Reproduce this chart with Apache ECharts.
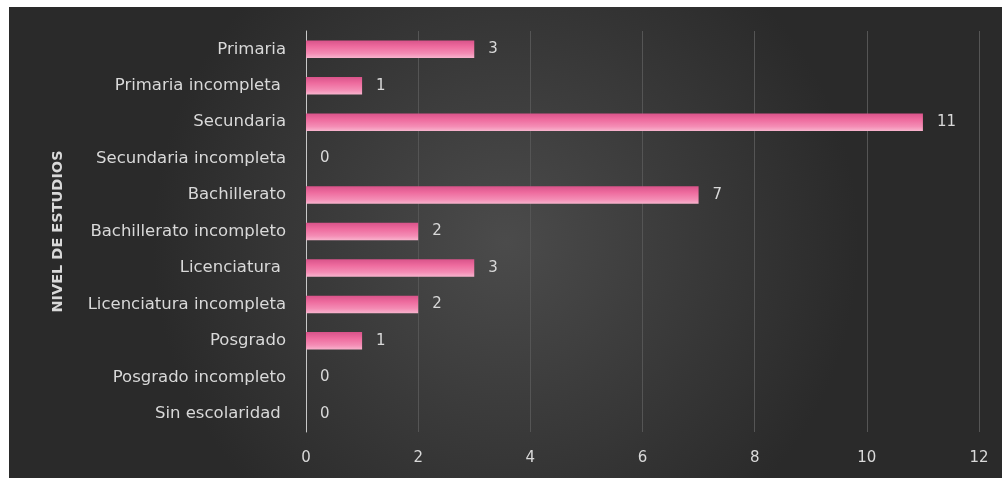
<!DOCTYPE html>
<html>
<head>
<meta charset="utf-8">
<script src="https://cdn.jsdelivr.net/npm/echarts@6/dist/echarts.min.js"></script>
<style>
  html, body { margin: 0; padding: 0; background: #ffffff; }
  #chart { position: absolute; left: 9px; top: 7px; width: 993px; height: 471px; }
</style>
</head>
<body>
<div id="chart"></div>
<script>
// Education level categories, listed top to bottom
const categories = [
  'Primaria',
  'Primaria incompleta ',
  'Secundaria',
  'Secundaria incompleta',
  'Bachillerato',
  'Bachillerato incompleto',
  'Licenciatura ',
  'Licenciatura incompleta',
  'Posgrado',
  'Posgrado incompleto',
  'Sin escolaridad '
];
// Number of people per level
const counts = [3, 1, 11, 0, 7, 2, 3, 2, 1, 0, 0];
// Value axis range
const axisMin = 0;
const axisMax = 12;
const axisStep = 2;

const textColor = '#d9d9d9';
const font = '"DejaVu Sans", "Noto Sans", sans-serif';

const chart = echarts.init(document.getElementById('chart'), null, { renderer: 'canvas' });

chart.setOption({
  backgroundColor: new echarts.graphic.RadialGradient(0.5, 0.5, 0.75, [
    { offset: 0, color: '#4b4b4b' },
    { offset: 1, color: '#2a2a2a' }
  ]),
  animation: false,
  grid: { left: 297, right: 23, top: 24, bottom: 46, containLabel: false },
  xAxis: {
    type: 'value',
    min: axisMin,
    max: axisMax,
    interval: axisStep,
    axisLine: { show: false },
    axisTick: { show: false },
    splitLine: { show: true, lineStyle: { color: '#555555', width: 1 } },
    axisLabel: { color: textColor, fontSize: 15, fontFamily: font, margin: 19 }
  },
  yAxis: {
    type: 'category',
    data: categories,
    inverse: true,
    name: 'NIVEL DE ESTUDIOS',
    nameLocation: 'middle',
    nameRotate: 90,
    nameGap: 240,
    nameTextStyle: { color: textColor, fontSize: 14.5, fontWeight: 'bold', fontFamily: font },
    axisLine: { show: true, lineStyle: { color: '#c8c8c8', width: 1 } },
    axisTick: { show: false },
    axisLabel: { color: textColor, fontSize: 16.5, fontFamily: font, margin: 20 }
  },
  series: [{
    type: 'bar',
    data: counts,
    barCategoryGap: '52%',
    itemStyle: {
      color: new echarts.graphic.LinearGradient(0, 0, 0, 1, [
        { offset: 0, color: '#d9538a' },
        { offset: 0.35, color: '#ee6b9e' },
        { offset: 0.75, color: '#f48db5' },
        { offset: 1, color: '#f8b3cd' }
      ])
    },
    label: {
      show: true,
      position: 'right',
      distance: 14,
      color: textColor,
      fontSize: 15,
      fontFamily: font
    }
  }]
});
</script>
</body>
</html>
